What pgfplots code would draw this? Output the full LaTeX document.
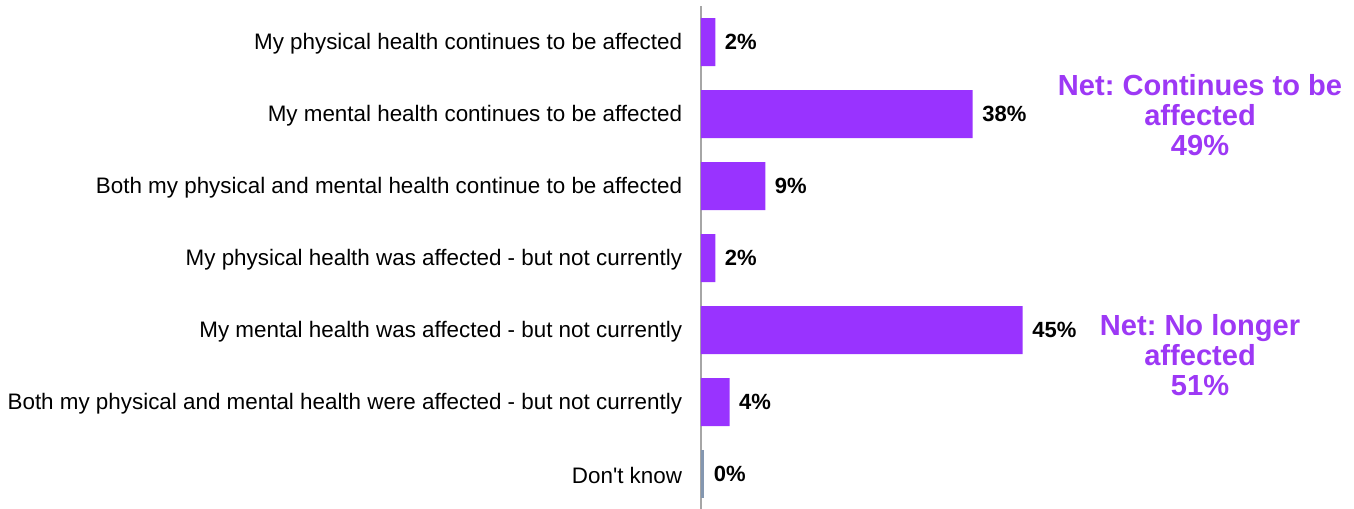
\documentclass[border=0pt]{standalone}
\usepackage{pgfplots}
\pgfplotsset{compat=1.18}
\usepackage{fontspec}
\setmainfont{Liberation Sans}
\frenchspacing
\definecolor{barpurple}{HTML}{9933FF}
\definecolor{netpurple}{HTML}{9D38F5}
\definecolor{dkbar}{HTML}{8497B0}
\definecolor{axgray}{HTML}{A6A6A6}
\begin{document}
\begin{tikzpicture}
\useasboundingbox (0,0) rectangle (1015.5pt,381pt);
\begin{axis}[
  at={(525.75pt,-1.5pt)}, anchor=south west,
  scale only axis, width=268.125pt, height=378pt,
  xmin=0, xmax=50, ymin=-0.5, ymax=6.5, y dir=reverse,
  xbar, bar width=36pt, bar shift=0pt,
  axis x line=none, axis y line=left,
  axis line style={-, draw=axgray, line width=0.8pt},
  ytick={0,1,2,3,4,5,6},
  yticklabels={My physical health continues to be affected,
    My mental health continues to be affected,
    Both my physical and mental health continue to be affected,
    My physical health was affected - but not currently,
    My mental health was affected - but not currently,
    Both my physical and mental health were affected - but not currently,
    Don\textquotesingle t know},
  major tick length=0pt, ytick style={draw=none},
  yticklabel style={font=\fontsize{16.8}{20}\selectfont, inner sep=0pt, anchor=east, xshift=-14pt, yshift=-1pt},
  point meta=explicit symbolic,
  nodes near coords,
  nodes near coords style={font=\bfseries\fontsize{16.5}{20}\selectfont, anchor=west, inner sep=0pt, xshift=7pt, text=black},
  clip=false,
]
\addplot[fill=barpurple, draw=none] coordinates {
  (2,0) [2\%]
  (38,1) [38\%]
  (9,2) [9\%]
  (2,3) [2\%]
  (45,4) [45\%]
  (4,5) [4\%]
};
\addplot[fill=dkbar, draw=none] coordinates {
  (0.45,6) [0\%]
};
\node[font=\bfseries\fontsize{21.8}{22.5}\selectfont, text=netpurple, align=center] at (axis cs:69.8,1.01) {Net: Continues to be\\affected\\49\%};
\node[font=\bfseries\fontsize{21.8}{22.5}\selectfont, text=netpurple, align=center] at (axis cs:69.8,4.35) {Net: No longer\\affected\\51\%};
\end{axis}
\end{tikzpicture}
\end{document}
